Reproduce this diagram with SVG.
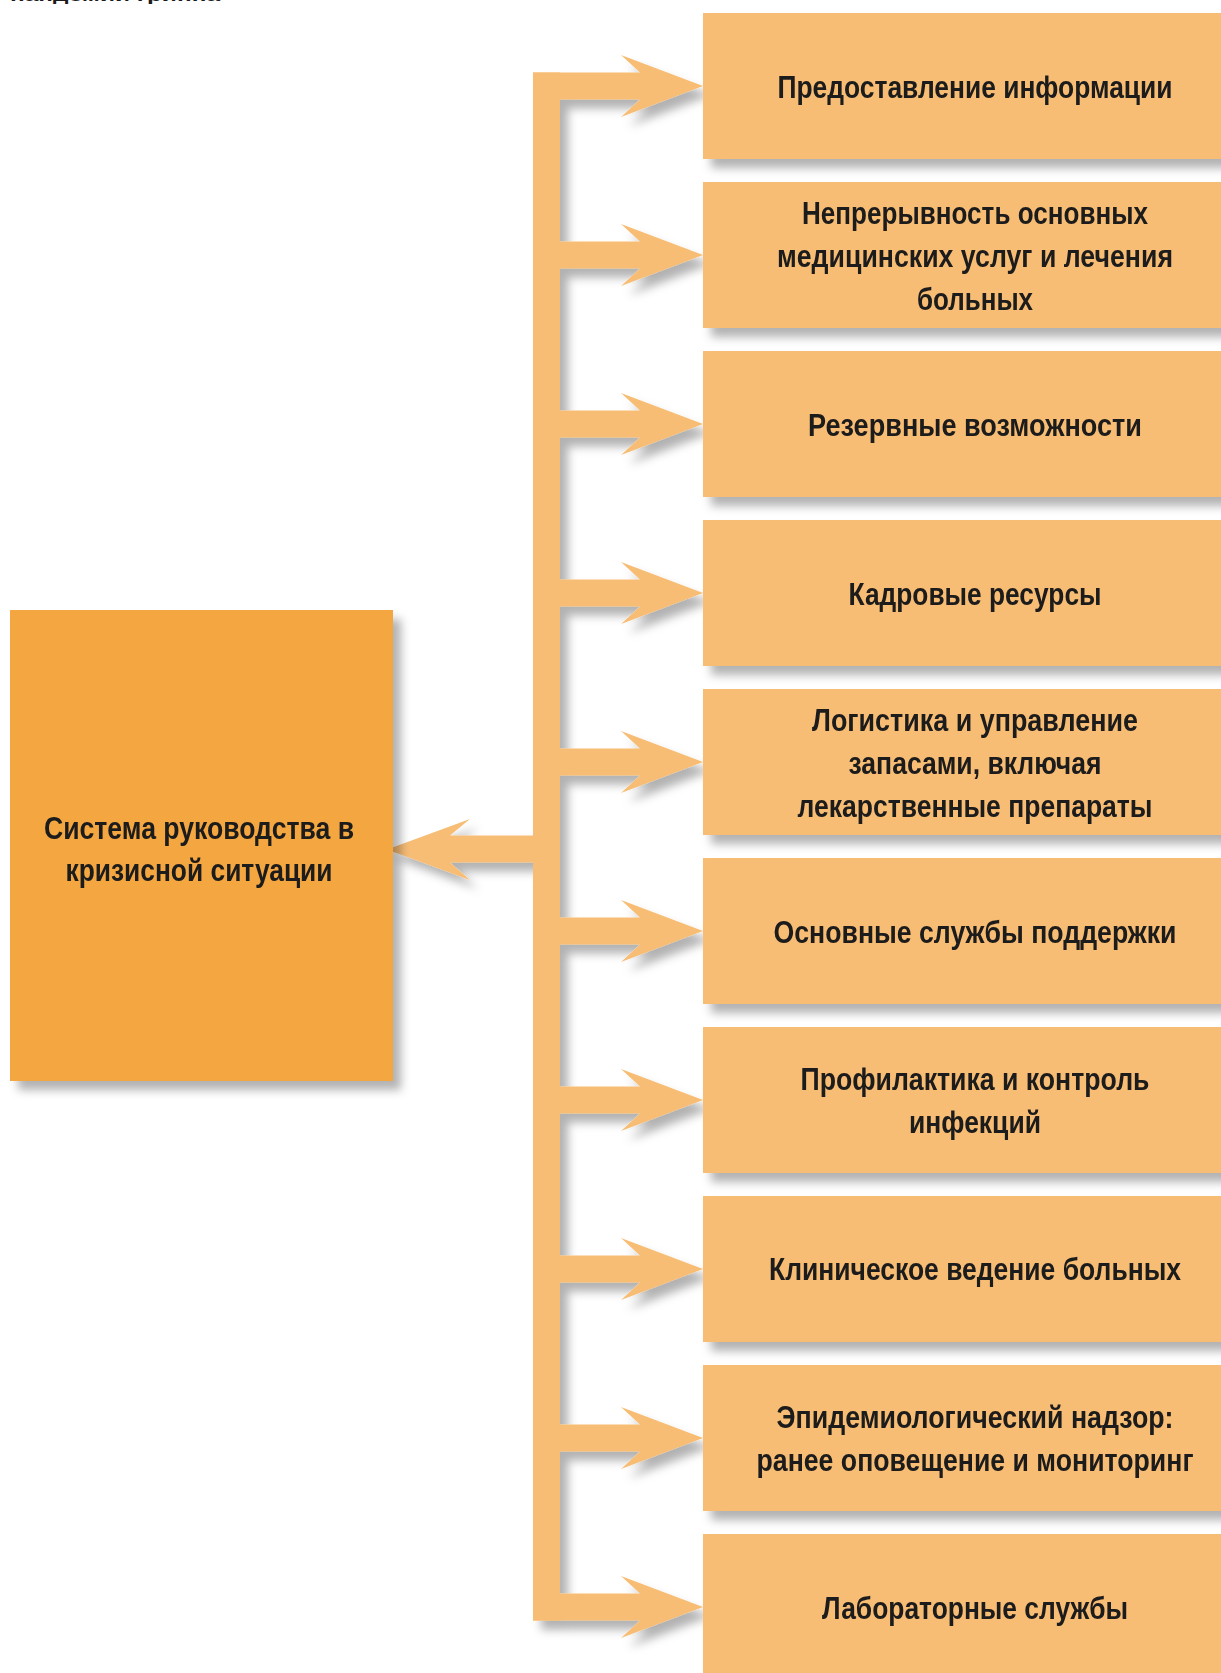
<svg xmlns="http://www.w3.org/2000/svg" width="1221" height="1673" viewBox="0 0 1221 1673">
  <defs>
    <filter id="sh" x="-10%" y="-10%" width="130%" height="130%">
      <feDropShadow dx="8" dy="9" stdDeviation="5" flood-color="#000" flood-opacity="0.3"/>
    </filter>
    <style>
      .box { fill: #F8BD74; }
      .main { fill: #F4A641; }
      .arr { fill: #F8BD74; }
      text { font-family: "Liberation Sans", Arial, sans-serif; font-weight: bold; font-size: 31px; fill: #1a1a1a; text-anchor: middle; }
      .cap { font-size: 17px; text-anchor: start; }
    </style>
  </defs>
  <rect width="1221" height="1673" fill="#ffffff"/>
  <text class="cap" x="10" y="1" textLength="210" lengthAdjust="spacingAndGlyphs">пандемии гриппа</text>

  <g id="connectors" filter="url(#sh)">
    <rect class="arr" x="533" y="72.5" width="27" height="1548"/>
    <g id="arrow-heads">
      <polygon class="arr" points="533,72.5 640,72.5 621,55 703,86 621,117 640,99.5 533,99.5"/>
      <polygon class="arr" points="533,241.5 640,241.5 621,224 703,255 621,286 640,268.5 533,268.5"/>
      <polygon class="arr" points="533,410.5 640,410.5 621,393 703,424 621,455 640,437.5 533,437.5"/>
      <polygon class="arr" points="533,579.5 640,579.5 621,562 703,593 621,624 640,606.5 533,606.5"/>
      <polygon class="arr" points="533,748.5 640,748.5 621,731 703,762 621,793 640,775.5 533,775.5"/>
      <polygon class="arr" points="533,917.5 640,917.5 621,900 703,931 621,962 640,944.5 533,944.5"/>
      <polygon class="arr" points="533,1086.5 640,1086.5 621,1069 703,1100 621,1131 640,1113.5 533,1113.5"/>
      <polygon class="arr" points="533,1255.5 640,1255.5 621,1238 703,1269 621,1300 640,1282.5 533,1282.5"/>
      <polygon class="arr" points="533,1424.5 640,1424.5 621,1407 703,1438 621,1469 640,1451.5 533,1451.5"/>
      <polygon class="arr" points="533,1593.5 640,1593.5 621,1576 703,1607 621,1638 640,1620.5 533,1620.5"/>
      <polygon class="arr" points="560,835.5 450,835.5 470,819 387,849.5 470,880 450,862.5 560,862.5"/>
    </g>
  </g>

  <g id="main-node" filter="url(#sh)">
    <rect class="main" x="10" y="610" width="383" height="471"/>
    <text x="199" y="838.5" textLength="310" lengthAdjust="spacingAndGlyphs">Система руководства в</text>
    <text x="199" y="880.5" textLength="267" lengthAdjust="spacingAndGlyphs">кризисной ситуации</text>
  </g>

  <g id="node-1" filter="url(#sh)">
    <rect class="box" x="703" y="13" width="560" height="146"/>
    <text x="975" y="98" textLength="395" lengthAdjust="spacingAndGlyphs">Предоставление информации</text>
  </g>
  <g id="node-2" filter="url(#sh)">
    <rect class="box" x="703" y="182" width="560" height="146"/>
    <text x="975" y="223.5" textLength="346" lengthAdjust="spacingAndGlyphs">Непрерывность основных</text>
    <text x="975" y="267" textLength="396" lengthAdjust="spacingAndGlyphs">медицинских услуг и лечения</text>
    <text x="975" y="309.5" textLength="116" lengthAdjust="spacingAndGlyphs">больных</text>
  </g>
  <g id="node-3" filter="url(#sh)">
    <rect class="box" x="703" y="351" width="560" height="146"/>
    <text x="975" y="436" textLength="334" lengthAdjust="spacingAndGlyphs">Резервные возможности</text>
  </g>
  <g id="node-4" filter="url(#sh)">
    <rect class="box" x="703" y="520" width="560" height="146"/>
    <text x="975" y="605" textLength="253" lengthAdjust="spacingAndGlyphs">Кадровые ресурсы</text>
  </g>
  <g id="node-5" filter="url(#sh)">
    <rect class="box" x="703" y="689" width="560" height="146"/>
    <text x="975" y="730.5" textLength="326" lengthAdjust="spacingAndGlyphs">Логистика и управление</text>
    <text x="975" y="774" textLength="253" lengthAdjust="spacingAndGlyphs">запасами, включая</text>
    <text x="975" y="816.5" textLength="355" lengthAdjust="spacingAndGlyphs">лекарственные препараты</text>
  </g>
  <g id="node-6" filter="url(#sh)">
    <rect class="box" x="703" y="858" width="560" height="146"/>
    <text x="975" y="943" textLength="403" lengthAdjust="spacingAndGlyphs">Основные службы поддержки</text>
  </g>
  <g id="node-7" filter="url(#sh)">
    <rect class="box" x="703" y="1027" width="560" height="146"/>
    <text x="975" y="1089.5" textLength="349" lengthAdjust="spacingAndGlyphs">Профилактика и контроль</text>
    <text x="975" y="1132.5" textLength="132" lengthAdjust="spacingAndGlyphs">инфекций</text>
  </g>
  <g id="node-8" filter="url(#sh)">
    <rect class="box" x="703" y="1196" width="560" height="146"/>
    <text x="975" y="1280" textLength="412" lengthAdjust="spacingAndGlyphs">Клиническое ведение больных</text>
  </g>
  <g id="node-9" filter="url(#sh)">
    <rect class="box" x="703" y="1365" width="560" height="146"/>
    <text x="975" y="1427.5" textLength="397" lengthAdjust="spacingAndGlyphs">Эпидемиологический надзор:</text>
    <text x="975" y="1470.5" textLength="437" lengthAdjust="spacingAndGlyphs">ранее оповещение и мониторинг</text>
  </g>
  <g id="node-10" filter="url(#sh)">
    <rect class="box" x="703" y="1534" width="560" height="146"/>
    <text x="975" y="1619" textLength="306" lengthAdjust="spacingAndGlyphs">Лабораторные службы</text>
  </g>
</svg>
